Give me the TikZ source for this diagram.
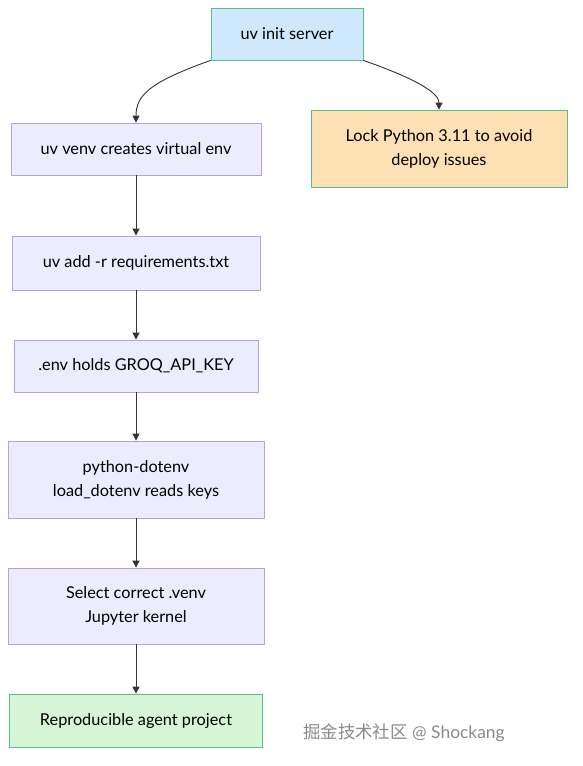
\documentclass[tikz,border=0pt]{standalone}
\usepackage{fontspec}
\setmainfont{Lato}
\newfontfamily\cjkfont{Noto Sans CJK SC}
\usetikzlibrary{arrows.meta}
\definecolor{purpfill}{HTML}{ECECFF}
\definecolor{purpline}{HTML}{B79FE6}
\definecolor{bluefill}{HTML}{CFE8FC}
\definecolor{greenline}{HTML}{52C08C}
\definecolor{orangefill}{HTML}{FDE1B4}
\definecolor{greenfill}{HTML}{D6F5D6}
\definecolor{edgecol}{HTML}{333333}
\definecolor{wmcol}{HTML}{8A8A8A}
\tikzset{
  box/.style={draw=purpline, fill=purpfill, line width=0.8pt, align=center, inner sep=0pt, font=\fontsize{16.3}{24}\selectfont, text=black},
  flow/.style={draw=edgecol, line width=0.9pt, -{Triangle[length=7pt,width=7pt]}},
}
\begin{document}
\begin{tikzpicture}[x=1pt,y=-1pt]
\useasboundingbox[fill=white] (0,0) rectangle (583,766);
\node[box, fill=bluefill, draw=greenline, minimum width=152pt, minimum height=52pt] (init) at (287,34) {uv init server};
\node[box, fill=orangefill, draw=greenline, minimum width=256pt, minimum height=77pt] (lock) at (439,148.5) {Lock Python 3.11 to avoid\\deploy issues};
\node[box, minimum width=250pt, minimum height=52pt] (venv) at (136,149) {uv venv creates virtual env};
\node[box, minimum width=248pt, minimum height=54pt] (add) at (136,263) {uv add -r requirements.txt};
\node[box, minimum width=244pt, minimum height=52pt] (env) at (136,366) {.env holds GROQ\_API\_KEY};
\node[box, minimum width=256pt, minimum height=77pt] (dotenv) at (136,479.5) {python-dotenv\\load\_dotenv reads keys};
\node[box, minimum width=256pt, minimum height=76pt] (select) at (136,606) {Select correct .venv\\Jupyter kernel};
\node[box, fill=greenfill, draw=greenline, minimum width=253pt, minimum height=53pt] (repro) at (136,720.5) {Reproducible agent project};
\node[text=wmcol, font=\fontsize{17.4}{20}\selectfont] (wm) at (404,733) {{\cjkfont 掘金技术社区} @ Shockang};
\draw[flow] (init.south west) .. controls (150,82) and (136,95) .. (venv.north);
\draw[flow] (init.south east) .. controls (425,82) and (439,95) .. (lock.north);
\draw[flow] (venv) -- (add);
\draw[flow] (add) -- (env);
\draw[flow] (env) -- (dotenv);
\draw[flow] (dotenv) -- (select);
\draw[flow] (select) -- (repro);
\end{tikzpicture}
\end{document}
